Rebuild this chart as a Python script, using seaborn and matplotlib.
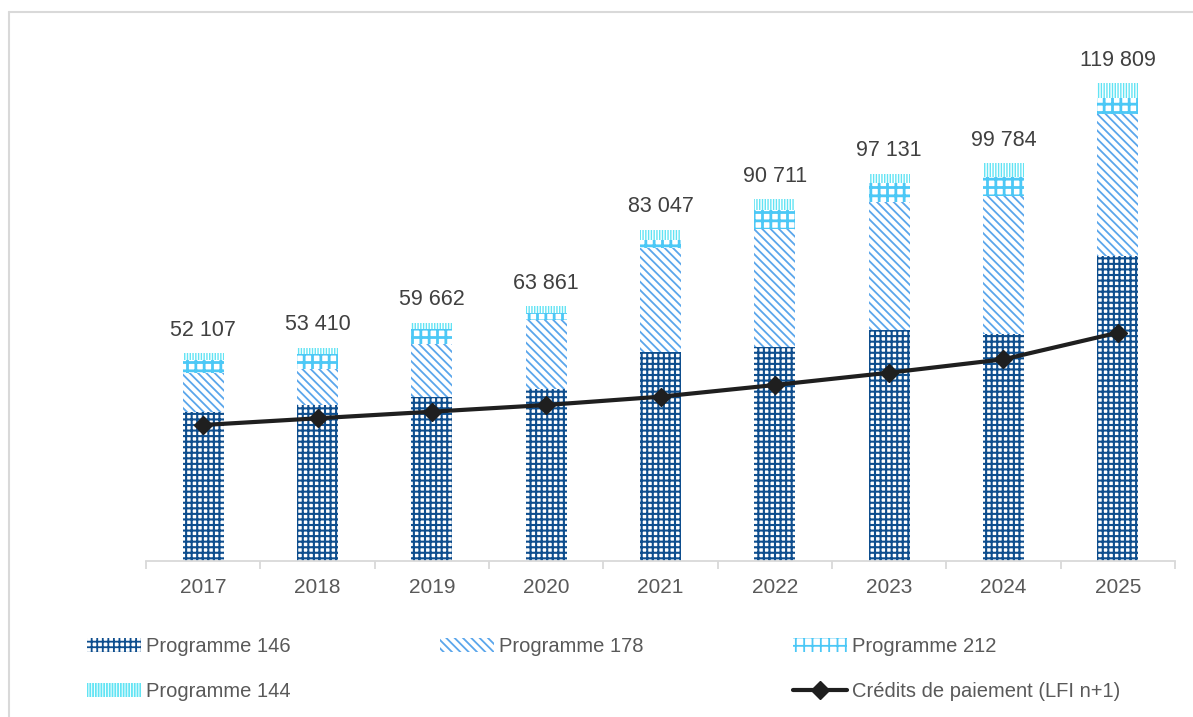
import numpy as np
import matplotlib
matplotlib.use('Agg')
import matplotlib.pyplot as plt
from matplotlib.lines import Line2D
from matplotlib.patches import Patch
import seaborn as sns

# -------------------------
# Data
# -------------------------
years = ['2017', '2018', '2019', '2020', '2021', '2022', '2023', '2024', '2025']
prog_146 = [37450, 39125, 41210, 43060, 52340, 53590, 57935, 56855, 76570]
prog_178 = [9630, 9030, 13220, 17380, 26230, 29670, 32180, 34760, 35460]
prog_212 = [3340, 3690, 3690, 1680, 1930, 4765, 4615, 4615, 4165]
prog_144 = [1687, 1565, 1542, 1741, 2547, 2686, 2401, 3554, 3614]
credits_lfi = [34110, 35790, 37445, 39125, 41210, 44140, 47225, 50585, 57260]

series_names = ['Programme 146', 'Programme 178', 'Programme 212', 'Programme 144']
line_name = 'Crédits de paiement (LFI n+1)'

# style for each stacked series: colour, hatch, hatch linewidth (pt)
styles = [
    ('#0E4E8E', '+++', 1.5),
    ('#5AA6EB', '\\\\\\\\', 1.3),
    ('#4CC8F6', '++', 2.0),
    ('#62E4F4', '||||||', 1.0),
]

sns.set_style('white')
plt.rcParams['font.family'] = ['Liberation Sans', 'DejaVu Sans']
plt.rcParams['hatch.linewidth'] = 1.3

W, H = 1193, 717
fig = plt.figure(figsize=(W / 100, H / 100), dpi=100)
ax = fig.add_axes([146 / W, 1 - 561 / H, 1029 / W, 498.4 / H])

# stacked bars
bottom = np.zeros(len(years))
for name, vals, (color, hatch, hlw) in zip(series_names,
                                           [prog_146, prog_178, prog_212, prog_144],
                                           styles):
    with plt.rc_context({'hatch.linewidth': hlw}):
        sns.barplot(x=years, y=vals, bottom=bottom, color=color, facecolor='white',
                    edgecolor=color, linewidth=0, hatch=hatch, width=0.36,
                    errorbar=None, label=name, ax=ax)
    for p in ax.containers[-1]:
        if hasattr(p, 'set_hatch_linewidth'):
            p.set_hatch_linewidth(hlw)
    bottom += np.array(vals)

totals = bottom

# credits line
sns.pointplot(x=years, y=credits_lfi, color='#1F1F1F', marker='D', markersize=9.5,
              markeredgewidth=1, linewidth=3, errorbar=None, label=line_name,
              ax=ax, zorder=5)
if ax.get_legend() is not None:
    ax.get_legend().remove()

# total labels above bars
for i, t in enumerate(totals):
    txt = f'{int(t):,}'.replace(',', ' ')
    ax.annotate(txt, (i, t), xytext=(0, 12.7), textcoords='offset points',
                ha='center', va='baseline', fontsize=15.5, color='#404040')

# axes cosmetics
ax.set_xlim(-0.5, 8.5)
ax.set_ylim(0, 125000)
sns.despine(ax=ax, left=True)
ax.spines['bottom'].set_color('#D9D9D9')
ax.spines['bottom'].set_linewidth(1.3)
ax.set_yticks([])
ax.set_xlabel('')
ax.set_ylabel('')
ax.tick_params(axis='x', which='major', length=0, pad=12.5, labelsize=15,
               labelcolor='#595959')
ax.set_xticks(np.arange(-0.5, 9, 1), minor=True)
ax.tick_params(axis='x', which='minor', bottom=True, length=6, width=1.3,
               color='#D9D9D9', direction='out')

# legend (3 columns, column-major fill)
handles, labels = ax.get_legend_handles_labels()
hmap = dict(zip(labels, handles))
blank = Patch(facecolor='none', edgecolor='none', linewidth=0)
order = [hmap['Programme 146'], hmap['Programme 144'], hmap['Programme 178'],
         blank, hmap['Programme 212'], hmap[line_name]]
order_labels = ['Programme 146', 'Programme 144', 'Programme 178', '',
                'Programme 212', line_name]
fig.legend(order, order_labels, ncol=3, loc='upper left',
           bbox_to_anchor=(87 / W, 1 - 637 / H), frameon=False, fontsize=14.5,
           handlelength=2.7, handletextpad=0.25, columnspacing=7.4,
           labelspacing=1.3, borderpad=0, borderaxespad=0, labelcolor='#595959')

# light frame around the chart area (top and left edges visible)
fig.add_artist(Line2D([9 / W, 1], [1 - 12 / H] * 2, color='#D9D9D9', lw=1.5,
                      transform=fig.transFigure))
fig.add_artist(Line2D([9 / W] * 2, [0, 1 - 12 / H], color='#D9D9D9', lw=1.5,
                      transform=fig.transFigure))

fig.savefig('out.png', dpi=100)
